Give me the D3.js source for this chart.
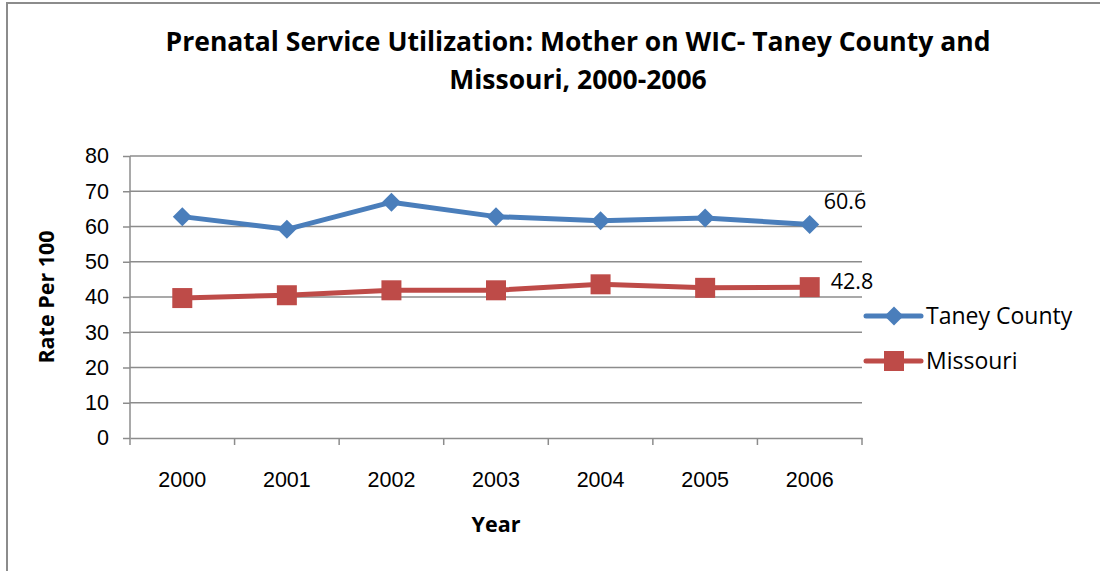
<!DOCTYPE html>
<html>
<head>
<meta charset="utf-8">
<script src="https://cdn.jsdelivr.net/npm/d3@7"></script>
<style>
  body { margin: 0; background: #fff; }
  svg { display: block; font-family: "Open Sans", "Liberation Sans", sans-serif; }
</style>
</head>
<body>
<svg id="chart" width="1100" height="571"></svg>
<script>
const years = ["2000", "2001", "2002", "2003", "2004", "2005", "2006"];
const taney = [62.8, 59.2, 66.9, 62.8, 61.6, 62.4, 60.6];
const missouri = [39.7, 40.5, 41.9, 41.9, 43.6, 42.6, 42.8];
const yTicks = [0, 10, 20, 30, 40, 50, 60, 70, 80];

const series = [
    { name: "Taney County", values: taney, color: "#4A7EBB", shape: "diamond" },
    { name: "Missouri", values: missouri, color: "#BE4B48", shape: "square" }
];

const width = 1100, height = 571,
    margin = { top: 156, right: 238, bottom: 133, left: 130 };

const svg = d3.select("#chart");

// outer chart border
svg.append("rect")
    .attr("x", 7).attr("y", 3)
    .attr("width", 1200).attr("height", 700)
    .attr("fill", "none")
    .attr("stroke", "#8c8c8c")
    .attr("stroke-width", 2);

const x = d3.scaleBand()
    .domain(years)
    .range([margin.left, width - margin.right]);

const y = d3.scaleLinear()
    .domain([0, 80])
    .range([height - margin.bottom, margin.top]);

// gridlines
svg.append("g")
    .selectAll("line")
    .data(yTicks.filter(d => d > 0))
    .join("line")
    .attr("x1", margin.left).attr("x2", width - margin.right)
    .attr("y1", d => y(d)).attr("y2", d => y(d))
    .attr("stroke", "#8c8c8c")
    .attr("stroke-width", 1.5);

// y axis
const yAxis = svg.append("g")
    .attr("transform", `translate(${margin.left},0)`)
    .call(d3.axisLeft(y).tickValues(yTicks).tickSize(7).tickPadding(14));
yAxis.select(".domain").attr("stroke", "#8c8c8c").attr("stroke-width", 1.5)
    .attr("d", `M0,${y(80)}V${y(0)}`);
yAxis.selectAll(".tick line").attr("stroke", "#8c8c8c").attr("stroke-width", 1.5);
yAxis.selectAll(".tick text").attr("font-size", 21.5).attr("fill", "#000");

// x axis
const xAxis = svg.append("g")
    .attr("transform", `translate(0,${y(0)})`)
    .call(d3.axisBottom(x).tickSize(0).tickPadding(34));
xAxis.select(".domain").attr("stroke", "#8c8c8c").attr("stroke-width", 1.5);
xAxis.selectAll(".tick text").attr("font-size", 21.5).attr("fill", "#000");

// x category boundary ticks
const bounds = years.map(d => x(d)).concat([x(years[years.length - 1]) + x.bandwidth()]);
svg.append("g")
    .selectAll("line")
    .data(bounds)
    .join("line")
    .attr("x1", d => d).attr("x2", d => d)
    .attr("y1", y(0)).attr("y2", y(0) + 7)
    .attr("stroke", "#8c8c8c")
    .attr("stroke-width", 1.5);

const cx = i => x(years[i]) + x.bandwidth() / 2;

const line = d3.line()
    .x((d, i) => cx(i))
    .y(d => y(d));

function marker(sel, shape, color, size) {
    if (shape === "diamond") {
        sel.append("path")
            .attr("d", `M0,${-size}L${size},0L0,${size}L${-size},0Z`)
            .attr("fill", color);
    } else {
        sel.append("rect")
            .attr("x", -size).attr("y", -size)
            .attr("width", size * 2).attr("height", size * 2)
            .attr("fill", color);
    }
}

series.forEach(s => {
    svg.append("path")
        .datum(s.values)
        .attr("fill", "none")
        .attr("stroke", s.color)
        .attr("stroke-width", 5)
        .attr("stroke-linejoin", "round")
        .attr("d", line);

    s.values.forEach((v, i) => {
        const g = svg.append("g").attr("transform", `translate(${cx(i)},${y(v)})`);
        marker(g, s.shape, s.color, s.shape === "diamond" ? 9.5 : 10);
    });
});

// data labels on last point
svg.append("text")
    .attr("x", cx(6) + 14).attr("y", y(taney[6]) - 15)
    .attr("font-size", 21.5)
    .text(taney[6].toFixed(1));
svg.append("text")
    .attr("x", cx(6) + 21).attr("y", y(missouri[6]) + 2)
    .attr("font-size", 21.5)
    .text(missouri[6].toFixed(1));

// legend
const legend = svg.append("g");
series.forEach((s, i) => {
    const ly = 316 + i * 45;
    const g = legend.append("g").attr("transform", `translate(866,${ly})`);
    g.append("line")
        .attr("x1", 0).attr("x2", 55)
        .attr("stroke", s.color).attr("stroke-width", 5)
        .attr("stroke-linecap", "round");
    const m = g.append("g").attr("transform", "translate(28,0)");
    marker(m, s.shape, s.color, s.shape === "diamond" ? 9.5 : 10);
    g.append("text")
        .attr("x", 60).attr("y", 8)
        .attr("font-size", 23)
        .text(s.name);
});

// titles
svg.append("text")
    .attr("x", 578).attr("y", 51)
    .attr("text-anchor", "middle")
    .attr("font-size", 26.5)
    .attr("font-weight", "bold")
    .text("Prenatal Service Utilization: Mother on WIC- Taney County and");
svg.append("text")
    .attr("x", 578).attr("y", 89)
    .attr("text-anchor", "middle")
    .attr("font-size", 26.5)
    .attr("font-weight", "bold")
    .text("Missouri, 2000-2006");

svg.append("text")
    .attr("transform", `translate(54,${(y(0) + y(80)) / 2}) rotate(-90)`)
    .attr("text-anchor", "middle")
    .attr("font-size", 21.5)
    .attr("font-weight", "bold")
    .text("Rate Per 100");

svg.append("text")
    .attr("x", 496).attr("y", 532)
    .attr("text-anchor", "middle")
    .attr("font-size", 21.5)
    .attr("font-weight", "bold")
    .text("Year");
</script>
</body>
</html>
